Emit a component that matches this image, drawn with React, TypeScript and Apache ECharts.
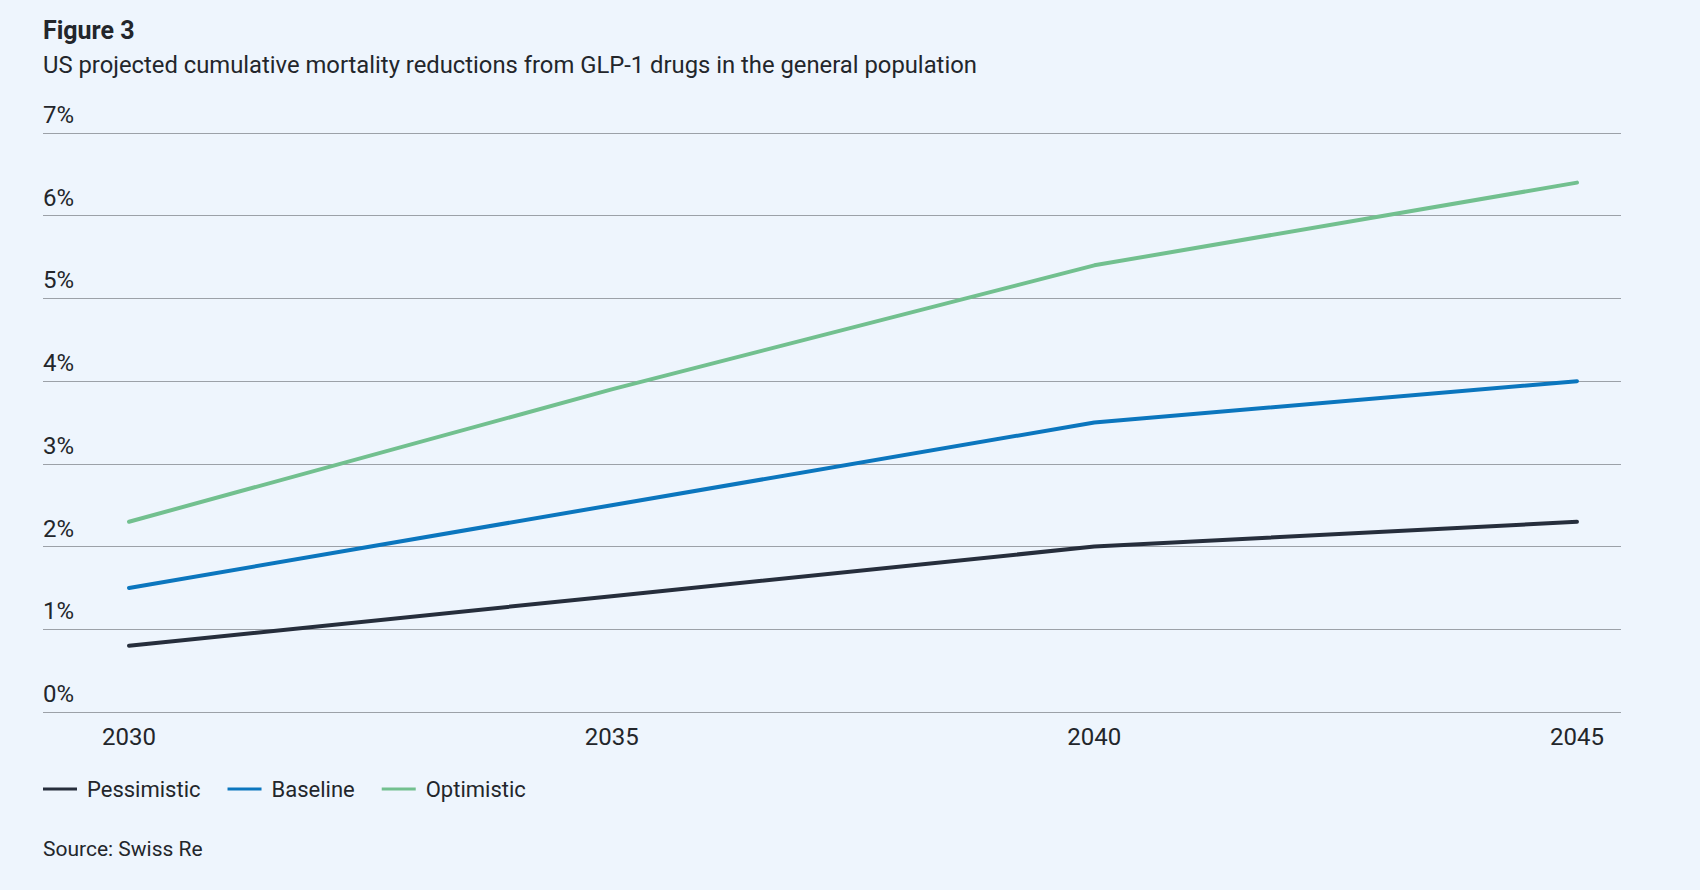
import React, { useEffect, useRef } from "react";
import * as echarts from "echarts";

const years = [2030, 2035, 2040, 2045];
const xLabels = [2030, 2035, 2040, 2045];
const pessimistic = [0.8, 1.4, 2.0, 2.3];
const baseline = [1.5, 2.5, 3.5, 4.0];
const optimistic = [2.3, 3.9, 5.4, 6.4];
const seriesNames = ["Pessimistic", "Baseline", "Optimistic"];
const seriesColors = ["#262e3c", "#0b76be", "#72c08f"];

const FONT = "Roboto, 'Noto Sans', sans-serif";
const TEXT = "#23262b";

export default function App() {
  const ref = useRef<HTMLDivElement>(null);
  useEffect(() => {
    if (!ref.current) return;
    const chart = echarts.init(ref.current, undefined, { renderer: "svg" });
    const values = [pessimistic, baseline, optimistic];
    chart.setOption({
      animation: false,
      backgroundColor: "#eef5fd",
      textStyle: { fontFamily: FONT },
      graphic: [
        {
          type: "text",
          left: 43,
          top: 18,
          style: { text: "Figure 3", fontSize: 25, fontWeight: "bold", fill: TEXT, fontFamily: FONT },
        },
        {
          type: "text",
          left: 43,
          top: 53,
          style: {
            text: "US projected cumulative mortality reductions from GLP-1 drugs in the general population",
            fontSize: 23.8,
            fill: TEXT,
            fontFamily: FONT,
          },
        },
        {
          type: "text",
          left: 43,
          top: 838,
          style: { text: "Source: Swiss Re", fontSize: 21, fill: TEXT, fontFamily: FONT },
        },
      ],
      grid: { left: 43, right: 79, top: 133, bottom: 178 },
      legend: {
        left: 43,
        top: 778,
        padding: 0,
        icon: "rect",
        itemWidth: 34,
        itemHeight: 3,
        itemGap: 27,
        textStyle: { fontSize: 22, color: TEXT, fontFamily: FONT, padding: [0, 0, 0, 5] },
        data: seriesNames,
      },
      xAxis: {
        type: "value",
        min: 2029.109,
        max: 2045.456,
        axisLine: { show: false },
        axisTick: { show: false },
        splitLine: { show: false },
        axisLabel: {
          customValues: xLabels,
          fontSize: 24,
          color: TEXT,
          fontFamily: FONT,
          margin: 13,
          formatter: (v: number) => String(v),
        },
      },
      yAxis: {
        type: "value",
        min: 0,
        max: 7,
        interval: 1,
        axisLine: { show: false },
        axisTick: { show: false },
        splitLine: { lineStyle: { color: "#9ca1a8", width: 1 } },
        axisLabel: {
          inside: true,
          margin: 0,
          verticalAlign: "bottom",
          padding: [0, 0, 6, 0],
          fontSize: 24,
          color: TEXT,
          fontFamily: FONT,
          formatter: "{value}%",
        },
      },
      series: seriesNames.map((name, i) => ({
        name,
        type: "line",
        data: years.map((y, j) => [y, values[i][j]]),
        symbol: "none",
        lineStyle: { color: seriesColors[i], width: 4, cap: "round", join: "round" },
        itemStyle: { color: seriesColors[i] },
      })),
    });
    return () => chart.dispose();
  }, []);
  return (
    <div
      ref={ref}
      style={{ position: "absolute", left: 0, top: 0, width: 1700, height: 890 }}
    />
  );
}
